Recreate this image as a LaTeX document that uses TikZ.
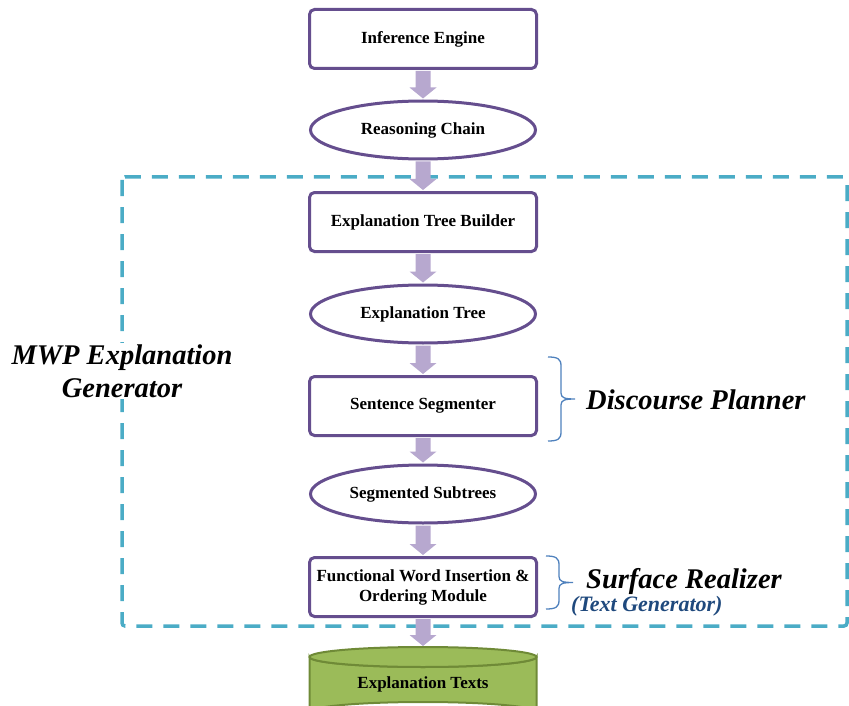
\documentclass[tikz,border=0pt]{standalone}
\usepackage{fontspec}
\setmainfont{Liberation Serif}
\usetikzlibrary{shapes.geometric,calc}

\definecolor{boxline}{HTML}{654E8E}
\definecolor{arrowfill}{HTML}{B7A8CF}
\definecolor{dashc}{HTML}{4BACC6}
\definecolor{bracec}{HTML}{4F81BD}
\definecolor{cylfill}{HTML}{9BBB59}
\definecolor{cylline}{HTML}{6F8A37}
\definecolor{subc}{HTML}{1F497D}

% block arrow from the bottom of one node to the top of the next
\newcommand\flowarrow[2]{%
  \path[fill=arrowfill] let \p1=(#1.south), \p2=(#2.north) in
    (\x1-7.5,\y1-1) -- (\x1+7.5,\y1-1) -- (\x1+7.5,\y2+12) -- (\x1+13.5,\y2+12)
    -- (\x1,\y2+1) -- (\x1-13.5,\y2+12) -- (\x1-7.5,\y2+12) -- cycle;}

% right-facing curly brace between two named points (top, bottom)
\newcommand\sidebrace[2]{%
  \draw[bracec, line width=1.3pt, line join=round] let \p1=(#1), \p2=(#2) in
    (\p1) .. controls (\x1+10,\y1) and (\x1+13,\y1-2) .. (\x1+13,\y1-9)
    -- (\x1+13,{(\y1+\y2)/2+6}) .. controls (\x1+13,{(\y1+\y2)/2+1}) and (\x1+17,{(\y1+\y2)/2}) .. (\x1+27,{(\y1+\y2)/2})
    (\x1+27,{(\y1+\y2)/2}) .. controls (\x1+17,{(\y1+\y2)/2}) and (\x1+13,{(\y1+\y2)/2-1}) .. (\x1+13,{(\y1+\y2)/2-6})
    -- (\x1+13,\y2+9) .. controls (\x1+13,\y2+2) and (\x1+10,\y2) .. (\p2);}

\begin{document}
\begin{tikzpicture}[x=1pt,y=-1pt,
  stepbox/.style={draw=boxline, line width=3pt, rounded corners=5pt, fill=white,
    minimum width=227pt, minimum height=59pt, inner sep=0pt, align=center,
    font=\fontsize{17}{20}\selectfont\bfseries},
  dataoval/.style={ellipse, draw=boxline, line width=3pt, fill=white,
    minimum width=225pt, minimum height=58pt, inner sep=0pt,
    font=\fontsize{17}{20}\selectfont\bfseries},
  sidelabel/.style={font=\fontsize{28.5}{33}\selectfont\bfseries\itshape, inner sep=1pt}]
\useasboundingbox (0,0) rectangle (849,706);

% the generator's dashed frame
\draw[dashc, line width=3.5pt, dash pattern=on 16pt off 11pt, rounded corners=3pt]
  (122,177) rectangle (847,626);

% pipeline stages
\node[stepbox] (engine) at (423,39) {Inference Engine};
\node[dataoval] (chain) at (423,130) {Reasoning Chain};
\node[stepbox] (builder) at (423,222) {Explanation Tree Builder};
\node[dataoval] (tree) at (423,314) {Explanation Tree};
\node[stepbox] (segmenter) at (423,406) {Sentence Segmenter};
\node[dataoval] (subtrees) at (423,494) {Segmented Subtrees};
\node[stepbox] (ordering) at (423,587) {Functional Word Insertion \&\\Ordering Module};

% output store drawn as a cylinder
\coordinate (cyltop) at (423,647);
\filldraw[fill=cylfill, draw=cylline, line width=2pt]
  (309.5,657) -- (309.5,712) arc[start angle=180, end angle=360, x radius=113.5, y radius=10]
  -- (536.5,657) arc[start angle=0, end angle=180, x radius=113.5, y radius=10] -- cycle;
\filldraw[fill=cylfill, draw=cylline, line width=2pt]
  (423,657) ellipse[x radius=113.5, y radius=10];
\node[font=\fontsize{17}{20}\selectfont\bfseries] (texts) at (423,684) {Explanation Texts};

% block arrows
\flowarrow{engine}{chain}
\flowarrow{chain}{builder}
\flowarrow{builder}{tree}
\flowarrow{tree}{segmenter}
\flowarrow{segmenter}{subtrees}
\flowarrow{subtrees}{ordering}
\flowarrow{ordering}{cyltop}

% module braces and labels
\coordinate (dpTop) at (548,357);
\coordinate (dpBot) at (548,441);
\sidebrace{dpTop}{dpBot}
\node[sidelabel, anchor=west] (planner) at (585,400) {Discourse Planner};

\coordinate (srTop) at (546,556);
\coordinate (srBot) at (546,609);
\sidebrace{srTop}{srBot}
\node[sidelabel, anchor=west] (realizer) at (585,581) {Surface Realizer};
\node[font=\fontsize{22}{25}\selectfont\bfseries\itshape, text=subc, anchor=west, inner sep=0pt]
  (textgen) at (571,606) {(Text Generator)};

\node[sidelabel, fill=white, align=center, font=\fontsize{28.5}{33}\selectfont\bfseries\itshape]
  (mwp) at (122,371) {MWP Explanation\\Generator};
\end{tikzpicture}
\end{document}
